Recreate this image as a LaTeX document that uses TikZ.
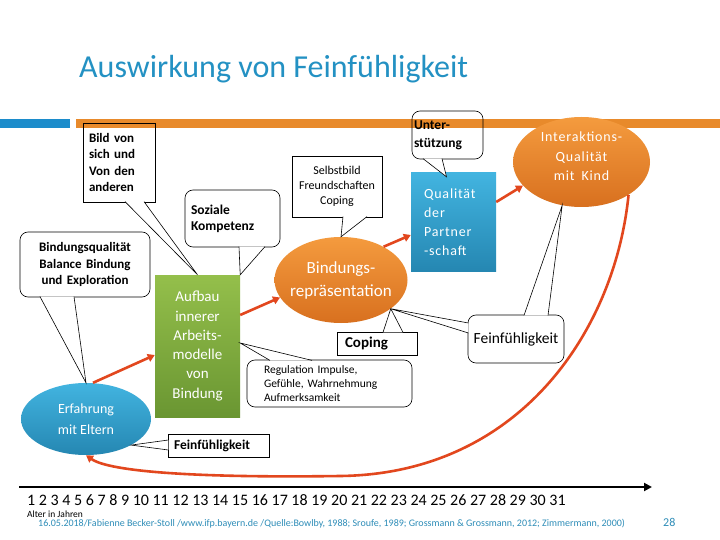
\documentclass[tikz,border=0pt]{standalone}
\usepackage{fontspec}
\setmainfont{Carlito}
\newfontfamily\spaced[LetterSpace=6]{Carlito}
\usetikzlibrary{arrows.meta,shapes.geometric}
\definecolor{titleblue}{HTML}{2391C3}
\definecolor{footblue}{HTML}{2E8DB8}
\definecolor{barblue}{HTML}{1C8CCB}
\definecolor{barorange}{HTML}{E88A2B}
\definecolor{orangetop}{HTML}{F49B3E}
\definecolor{orangebot}{HTML}{D8701F}
\definecolor{bluetop}{HTML}{42B4E0}
\definecolor{bluebot}{HTML}{2587B2}
\definecolor{greentop}{HTML}{94BF4B}
\definecolor{greenbot}{HTML}{6A9632}
\definecolor{arrowred}{HTML}{E2471E}
\newcommand\fsz[2]{\fontsize{#1}{#2}\selectfont}
\tikzset{
  callout/.style={draw=black,line width=.6pt,inner sep=0pt,align=left,font=\fsz{13}{16.5}\bfseries},
  roundcall/.style={callout,rounded corners=8pt},
  ptr/.style={draw=black,fill=white,line width=.6pt},
  orangeblob/.style={ellipse,top color=orangetop,bottom color=orangebot,text=white,align=center,inner sep=0pt},
  blueblob/.style={ellipse,top color=bluetop,bottom color=bluebot,text=white,align=center,inner sep=0pt},
  greenbox/.style={rectangle,top color=greentop,bottom color=greenbot,text=white,align=center,inner sep=0pt},
  bluebox/.style={rectangle,top color=bluetop,bottom color=bluebot,text=white,align=left,inner sep=0pt},
  flow/.style={draw=arrowred,line width=2.6pt,-{Triangle[length=7pt,width=8pt]}},
  axis/.style={draw=black,line width=2.4pt,-{Triangle[length=8pt,width=8pt]}}
}
\begin{document}
\begin{tikzpicture}[x=1pt,y=-1pt]
  \useasboundingbox (0,0) rectangle (720,540);
  \fill[white] (0,0) rectangle (720,540);
  \fill[barblue] (0,119) rectangle (70,128);
  \fill[barorange] (76,119) rectangle (720,128);
  \node[anchor=base west,inner sep=0pt,font=\fsz{32}{38},text=titleblue] (title) at (79,78) {Auswirkung von Feinfühligkeit};

  % callouts and shapes
  \node[callout,minimum width=72,minimum height=79,text width=60] (bild) at (119,162.5) {Bild von\\sich und\\Von den\\anderen};
  \node[roundcall,minimum width=95,minimum height=57,text width=83,font=\fsz{13.5}{16}\bfseries] (sozial) at (232.5,218.5) {Soziale\\Kompetenz};
  \node[roundcall,minimum width=130,minimum height=65,text width=118,align=center] (bq) at (85,264.5) {Bindungsqualität\\Balance Bindung\\und Exploration};
  \node[greenbox,minimum width=85,minimum height=142,font=\fsz{15}{19.3}] (aufbau) at (197.5,346) {Aufbau\\innerer\\Arbeits-\\modelle\\von\\Bindung};
  \node[blueblob,minimum width=130,minimum height=72,font=\fsz{14}{21}] (erf) at (86,419) {Erfahrung\\mit Eltern};
  \node[callout,minimum width=101,minimum height=23,text width=89,font=\fsz{13.5}{16}\bfseries] (feinB) at (218.5,445.5) {Feinfühligkeit};
  \node[orangeblob,minimum width=133,minimum height=86,inner xsep=-8pt,font=\fsz{17}{23}] (bindrep) at (341,280) {Bindungs-\\repräsentation};
  \node[callout,minimum width=80,minimum height=23,text width=64,font=\fsz{15}{18}\bfseries] (coping) at (377,343.5) {Coping};
  \node[roundcall,minimum width=165,minimum height=47,text width=131,font=\fsz{11.5}{14}] (reg) at (329.5,383.5) {Regulation Impulse,\\Gefühle, Wahrnehmung\\Aufmerksamkeit};
  \node[callout,minimum width=90,minimum height=61,text width=86,align=center,font=\fsz{12}{15}] (selbst) at (337,186.5) {Selbstbild\\Freundschaften\\Coping};
  \node[roundcall,minimum width=71,minimum height=48,text width=67,font=\fsz{13.5}{18}\bfseries] (unter) at (447.5,135) {Unter-\\stützung};
  \node[bluebox,minimum width=85,minimum height=98,text width=59,font=\spaced\fsz{14}{19}] (qual) at (453.5,222) {Qualität\\der\\Partner\\-schaft};
  \node[orangeblob,minimum width=137,minimum height=90,font=\spaced\fsz{14}{19.5}] (inter) at (581.5,162) {Interaktions-\\Qualität\\mit\enspace Kind\\[-8pt]\mbox{}};
  \node[roundcall,minimum width=96,minimum height=48,text width=92,align=center,font=\fsz{15.5}{18}] (feinR) at (516,339) {Feinfühligkeit};

  % red arrows
  \draw[flow] ([xshift=7]erf.north) -- ([yshift=-9]aufbau.west);
  \draw[flow] ([yshift=31]aufbau.east) -- (bindrep.196);
  \draw[flow] (bindrep.38) -- ([yshift=-13]qual.west);
  \draw[flow] ([yshift=20]qual.east) -- (inter.202);
  \draw[flow] (inter.-35) .. controls (615,330) and (520,474) .. (340,476) .. controls (200,478) and (110,472) .. (erf.south);

  % pointers of the callouts
  \draw[ptr] ([xshift=6,yshift=.7]bild.south) -- (aufbau.north) -- ([xshift=25,yshift=.7]bild.south);
  \draw[ptr] ([xshift=6.5,yshift=.7]sozial.south) -- (aufbau.north east) -- ([xshift=32.5,yshift=.7]sozial.south);
  \draw[ptr] ([xshift=-45,yshift=.7]bq.south) -- (erf.north) -- ([xshift=-11,yshift=.7]bq.south);
  \draw[ptr] ([xshift=.7,yshift=5.5]feinB.west) -- (erf.-30) -- ([xshift=.7,yshift=-4.5]feinB.west);
  \draw[ptr] ([xshift=6,yshift=-.7]coping.north) -- (bindrep.-30) -- ([xshift=26,yshift=-.7]coping.north);
  \draw[ptr] ([xshift=-59.5,yshift=-.7]reg.north) -- ([yshift=3]aufbau.east) -- ([xshift=-17.5,yshift=-.7]reg.north);
  \draw[ptr] ([xshift=6,yshift=.7]selbst.south) -- (bindrep.north) -- ([xshift=30,yshift=.7]selbst.south);
  \draw[ptr] ([xshift=-24.5,yshift=.7]unter.south) -- ([xshift=-7,yshift=-4]qual.north) -- ([xshift=-5.5,yshift=.7]unter.south);
  \draw[ptr] ([xshift=.7,yshift=16]feinR.west) -- (bindrep.-30) -- ([xshift=.7,yshift=6]feinR.west);
  \draw[ptr] ([xshift=8,yshift=-.7]feinR.north) -- (inter.-114) -- ([xshift=32,yshift=-.7]feinR.north);

  % age axis and footer
  \coordinate (ax0) at (19,487);
  \coordinate (ax1) at (652,487);
  \draw[axis] (ax0) -- (ax1);
  \node[anchor=west,inner sep=0pt,font=\fsz{16}{19}] (ages) at (27,500) {1 2 3 4 5 6 7 8 9 10 11 12 13 14 15 16 17 18 19 20 21 22 23 24 25 26 27 28 29 30 31};
  \node[anchor=west,inner sep=0pt,font=\fsz{9.5}{11}] (alter) at (27,514) {Alter in Jahren};
  \node[anchor=west,inner sep=0pt,font=\fsz{10}{12},text=footblue] (foot) at (38,523.5) {16.05.2018/Fabienne Becker-Stoll /www.ifp.bayern.de /Quelle:Bowlby, 1988; Sroufe, 1989; Grossmann \& Grossmann, 2012; Zimmermann, 2000)};
  \node[anchor=west,inner sep=0pt,font=\fsz{12}{14},text=footblue] (page) at (663,522) {28};
\end{tikzpicture}
\end{document}
